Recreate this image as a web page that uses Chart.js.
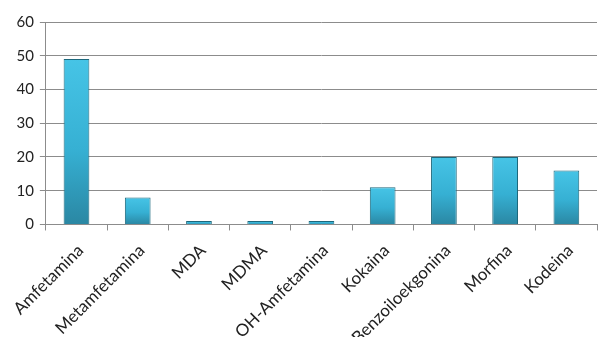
<!DOCTYPE html>
<html>
<head>
<meta charset="utf-8">
<script src="https://cdn.jsdelivr.net/npm/chart.js@4"></script>
<style>
  html, body { margin: 0; padding: 0; background: #fff; }
  #frame { width: 599px; height: 337px; overflow: hidden; }
  #wrap { width: 599px; height: 358px; position: relative; }
</style>
</head>
<body>
<div id="frame"><div id="wrap"><canvas id="chart"></canvas></div></div>
<script>
// data
var categories = ['Amfetamina', 'Metamfetamina', 'MDA', 'MDMA', 'OH-Amfetamina', 'Kokaina', 'Benzoiloekgonina', 'Morfina', 'Kodeina'];
var counts = [49, 8, 1, 1, 1, 11, 20, 20, 16];
var yTicks = [0, 10, 20, 30, 40, 50, 60];

// each bar gets its own top-to-bottom shading (light cyan -> teal)
function barFill(context) {
    var chart = context.chart;
    var ys = chart.scales.y;
    if (!chart.chartArea || !ys || context.parsed === undefined) return '#36b4d6';
    var top = ys.getPixelForValue(context.parsed.y);
    var base = ys.getPixelForValue(0);
    if (!isFinite(top) || !isFinite(base) || base - top < 1) return '#36b4d6';
    var g = chart.ctx.createLinearGradient(0, top, 0, base);
    g.addColorStop(0, '#46c4e6');
    g.addColorStop(0.55, '#36b0d3');
    g.addColorStop(1, '#2a87a3');
    return g;
}

var ctx = document.getElementById('chart').getContext('2d');
var chart = new Chart(ctx, {
    type: 'bar',
    data: {
        labels: categories,
        datasets: [{
            data: counts,
            backgroundColor: barFill,
            borderColor: '#1d687c',
            borderWidth: 1,
            categoryPercentage: 1,
            barPercentage: 0.42
        }]
    },
    options: {
        responsive: true,
        maintainAspectRatio: false,
        animation: false,
        layout: { padding: { top: 22, right: 2, left: 10, bottom: 0 } },
        plugins: {
            legend: { display: false },
            tooltip: { enabled: false }
        },
        scales: {
            x: {
                grid: {
                    offset: true,
                    drawOnChartArea: false,
                    tickLength: 6,
                    color: '#8c8c8c'
                },
                border: { color: '#8c8c8c' },
                ticks: {
                    minRotation: 45,
                    maxRotation: 45,
                    color: '#222',
                    font: { family: 'Lato', size: 17 },
                    padding: 10,
                    labelOffset: 4
                }
            },
            y: {
                min: 0,
                max: 60,
                afterBuildTicks: function(axis) {
                    axis.ticks = yTicks.map(function(v) { return { value: v }; });
                },
                grid: {
                    color: '#8c8c8c',
                    tickLength: 6
                },
                border: { color: '#8c8c8c' },
                ticks: {
                    color: '#222',
                    font: { family: 'Lato', size: 15 },
                    padding: 6
                }
            }
        }
    }
});
</script>
</body>
</html>
